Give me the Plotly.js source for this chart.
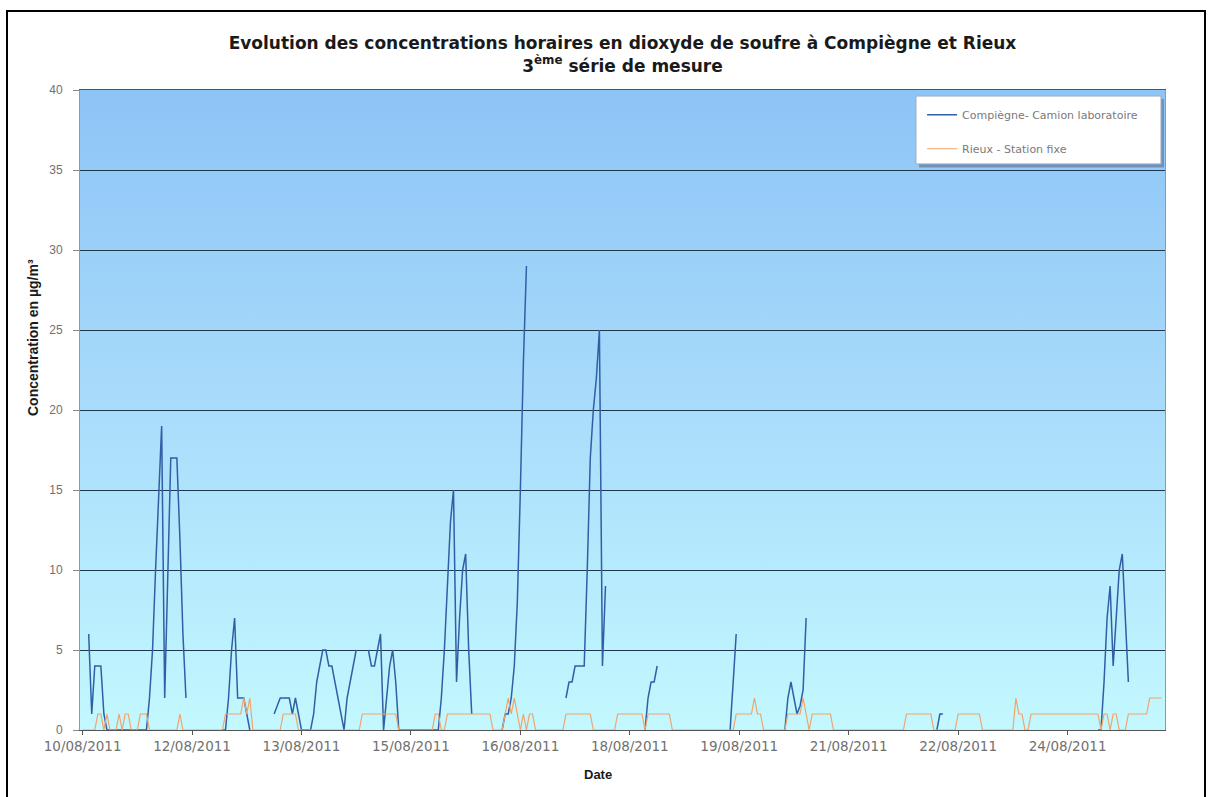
<!DOCTYPE html>
<html>
<head>
<meta charset="utf-8">
<script src="https://cdn.plot.ly/plotly-3.0.1.min.js"></script>
<style>
  html, body { margin: 0; padding: 0; background: #ffffff; }
  #chart { position: absolute; left: 0; top: 0; width: 1212px; height: 797px; }
  #frame { position: absolute; left: 6px; top: 10px; width: 1196px; height: 800px;
           border-top: 2px solid #000; border-left: 2px solid #000; border-right: 2px solid #000;
           pointer-events: none; }
</style>
</head>
<body>
<div id="chart"></div>
<div id="frame"></div>
<script>
// ---- Data (hourly values, first hour = 10/08/2011 12:00) ----
const startTime = "2011-08-10 12:00";
const seriesNames = ["Compiègne- Camion laboratoire", "Rieux - Station fixe"];

// Compiègne - Camion laboratoire (µg/m³), null = no measurement
const compiegne = [
  /* 10/08 12h-23h */ null,null,6,1,4,4,4,1,0,0,0,0,
  /* 11/08 */ 0,0,0,0,0,0,0,0,0,0,2,5,10,15,19,2,10,17,17,17,12,6,2,null,
  /* 12/08 */ null,null,null,null,null,null,null,null,null,null,0,0,2,5,7,2,2,2,1,0,null,null,null,null,
  /* 13/08 */ null,null,null,1,1.5,2,2,2,2,1,2,1,0,0,0,0,1,3,4,5,5,4,4,3,
  /* 14/08 */ 2,1,0,2,3,4,5,null,null,null,5,4,4,5,6,0,2,4,5,3,0,0,0,0,
  /* 15/08 */ 0,0,0,0,0,0,0,0,0,0,2,5,9,13,15,3,7,10,11,5,1,null,null,null,
  /* 16/08 */ null,null,null,null,null,null,0,1,1,2,4,8,15,23,29,null,null,null,null,null,null,null,null,null,
  /* 17/08 */ null,null,null,2,3,3,4,4,4,4,10,17,20,22,25,4,9,null,null,null,null,null,null,null,
  /* 18/08 */ null,null,null,null,null,0,2,3,3,4,null,null,null,null,null,null,null,null,null,null,null,null,null,null,
  /* 19/08 */ null,null,null,null,null,null,null,null,null,0,3,6,null,null,null,null,null,null,null,null,null,null,null,null,
  /* 20/08 */ null,null,null,0,2,3,2,1,1.5,2.5,7,null,null,null,null,null,null,null,null,null,null,null,null,null,
  /* 21/08 */ null,null,null,null,null,null,null,null,null,null,null,null,null,null,null,null,null,null,null,null,null,null,null,null,
  /* 22/08 */ null,null,null,null,null,0,1,1,null,null,null,null,null,null,null,null,null,null,null,null,null,null,null,null,
  /* 23/08 */ null,null,null,null,null,null,null,null,null,null,null,null,null,null,null,null,null,null,null,null,null,null,null,null,
  /* 24/08 */ null,null,null,null,null,null,null,null,null,null,0,0,3,7,9,4,7,10,11,7,3,null,null,null,
  /* 25/08 0h-7h */ null,null,null,null,null,null,null,null
];

// Rieux - Station fixe (µg/m³)
const rieux = [
  /* 10/08 12h-23h */ 0,0,0,0,0,1,1,0,1,0,0,0,
  /* 11/08 */ 1,0,1,1,0,0,0,1,1,1,0,0,0,0,0,0,0,0,0,0,1,0,0,0,
  /* 12/08 */ 0,0,0,0,0,0,0,0,0,0,0,1,1,1,1,1,1,2,1,2,0,0,0,0,
  /* 13/08 */ 0,0,0,0,0,0,1,1,1,1,1,0,0,0,0,0,0,0,0,0,0,0,0,0,
  /* 14/08 */ 0,0,0,0,0,0,0,0,1,1,1,1,1,1,1,1,1,1,1,1,0,0,0,0,
  /* 15/08 */ 0,0,0,0,0,0,0,0,1,1,0,0,1,1,1,1,1,1,1,1,1,1,1,1,
  /* 16/08 */ 1,1,1,0,0,0,0,1,2,1,2,1,0,1,0,1,1,0,0,0,0,0,0,0,
  /* 17/08 */ 0,0,0,1,1,1,1,1,1,1,1,1,0,0,0,0,0,0,0,0,1,1,1,1,
  /* 18/08 */ 1,1,1,1,1,0,1,1,1,1,1,1,1,1,0,0,0,0,0,0,0,0,0,0,
  /* 19/08 */ 0,0,0,0,0,0,0,0,0,0,0,1,1,1,1,1,1,2,1,1,0,0,0,0,
  /* 20/08 */ 0,0,0,0,1,1,1,1,1,2,1,0,1,1,1,1,1,1,1,0,0,0,0,0,
  /* 21/08 */ 0,0,0,0,0,0,0,0,0,0,0,0,0,0,0,0,0,0,0,1,1,1,1,1,
  /* 22/08 */ 1,1,1,1,0,0,0,0,0,0,0,0,1,1,1,1,1,1,1,1,0,0,0,0,
  /* 23/08 */ 0,0,0,0,0,0,0,2,1,1,0,0,1,1,1,1,1,1,1,1,1,1,1,1,
  /* 24/08 */ 1,1,1,1,1,1,1,1,1,1,1,0,1,1,0,1,1,0,0,0,1,1,1,1,
  /* 25/08 0h-7h */ 1,1,1,2,2,2,2,2
];

const yTicks = [0, 5, 10, 15, 20, 25, 30, 35, 40];
const titleLine1 = "Evolution des concentrations horaires en dioxyde de soufre à Compiègne et Rieux";
const titleLine2 = "3<sup>ème</sup> série de mesure";
const yTitle = "Concentration en µg/m³";
const xTitle = "Date";

// ---- Build hourly time categories ----
const HOUR = 3600 * 1000;
const t0 = Date.parse(startTime.replace(" ", "T") + ":00Z");
function fmt(ms) {
  const d = new Date(ms);
  const p = n => String(n).padStart(2, "0");
  return d.getUTCFullYear() + "-" + p(d.getUTCMonth() + 1) + "-" + p(d.getUTCDate()) + " " +
         p(d.getUTCHours()) + ":" + p(d.getUTCMinutes()) + ":" + p(d.getUTCSeconds());
}
const times = compiegne.map((_, i) => fmt(t0 + i * HOUR));

const gradSvg = "<svg xmlns='http://www.w3.org/2000/svg' width='100' height='100' preserveAspectRatio='none'>" +
  "<defs><linearGradient id='g' x1='0' y1='0' x2='0' y2='1'>" +
  "<stop offset='0' stop-color='#8cc4f6'/><stop offset='0.5' stop-color='#a9dcfb'/><stop offset='1' stop-color='#c3f8ff'/>" +
  "</linearGradient></defs><rect width='100' height='100' fill='url(#g)'/></svg>";
const gradUri = "data:image/svg+xml;charset=utf-8," + encodeURIComponent(gradSvg);

const font = "Liberation Sans, Arial, sans-serif";
const wide = "DejaVu Sans, Verdana, sans-serif";

const traces = [
  { x: times, y: compiegne, name: seriesNames[0], type: "scatter", mode: "lines",
    line: { color: "#2f5fa5", width: 1.5 }, connectgaps: false, legendgroup: "a" },
  { x: times, y: rieux, name: seriesNames[1], type: "scatter", mode: "lines",
    line: { color: "#f2a468", width: 1.2 }, legendgroup: "b" }
];

const layout = {
  width: 1212, height: 797,
  margin: { l: 80, r: 47, t: 90, b: 67 },
  paper_bgcolor: "rgba(0,0,0,0)",
  plot_bgcolor: "rgba(0,0,0,0)",
  font: { family: font, color: "#333" },
  title: {
    text: "<b>" + titleLine1 + "<br>" + titleLine2 + "</b>",
    font: { family: wide, size: 17, color: "#1a1a1a" },
    x: 0.5, xref: "paper", xanchor: "center",
    y: 0.938, yref: "container", yanchor: "top"
  },
  xaxis: {
    type: "date",
    range: [fmt(t0 - 0.86 * HOUR), fmt(t0 + 356.05 * HOUR)],
    tick0: startTime, dtick: 36 * HOUR,
    tickformat: "%d/%m/%Y",
    ticks: "outside", ticklen: 4, tickcolor: "#555",
    tickfont: { family: wide, size: 13.5, color: "#707070" },
    showgrid: false, zeroline: false,
    showline: true, linecolor: "#555", linewidth: 1, mirror: true
  },
  yaxis: {
    range: [0, 40],
    tickvals: yTicks, ticktext: yTicks.map(String),
    ticks: "outside", ticklen: 6, tickcolor: "#888",
    ticklabelstandoff: 8,
    tickfont: { family: font, size: 12, color: "#707070" },
    showgrid: true, gridcolor: "#1d3a4c", gridwidth: 1,
    zeroline: false,
    showline: true, linecolor: "#8a9aa6", linewidth: 1, mirror: true
  },
  showlegend: true,
  legend: {
    x: 0.7761, y: 0.984, xanchor: "left", yanchor: "top",
    bgcolor: "rgba(0,0,0,0)", borderwidth: 0,
    font: { family: wide, size: 11, color: "#7a7a7a" },
    traceorder: "grouped", tracegroupgap: 15
  },
  images: [{
    source: gradUri, xref: "paper", yref: "paper",
    x: 0, y: 1, sizex: 1, sizey: 1, xanchor: "left", yanchor: "top",
    sizing: "stretch", layer: "below"
  }],
  shapes: [
    { type: "rect", xref: "paper", yref: "paper", x0: 0.7733, x1: 0.9991, y0: 0.879, y1: 0.986,
      fillcolor: "#6f93bd", line: { width: 0 }, layer: "above" },
    { type: "rect", xref: "paper", yref: "paper", x0: 0.7705, x1: 0.9963, y0: 0.8845, y1: 0.9905,
      fillcolor: "#ffffff", line: { color: "#9aaec4", width: 1 }, layer: "above" }
  ],
  annotations: [
    { text: "<b>" + yTitle + "</b>", xref: "paper", yref: "paper", x: -0.0433, y: 0.6125,
      xanchor: "center", yanchor: "middle", textangle: -90, showarrow: false,
      font: { family: font, size: 14, color: "#1a1a1a" } },
    { text: "<b>" + xTitle + "</b>", xref: "paper", yref: "paper", x: 0.477, y: -0.0703,
      xanchor: "center", yanchor: "middle", showarrow: false,
      font: { family: font, size: 13, color: "#1a1a1a" } }
  ]
};

Plotly.newPlot("chart", traces, layout, { displayModeBar: false, staticPlot: true });
</script>
</body>
</html>
